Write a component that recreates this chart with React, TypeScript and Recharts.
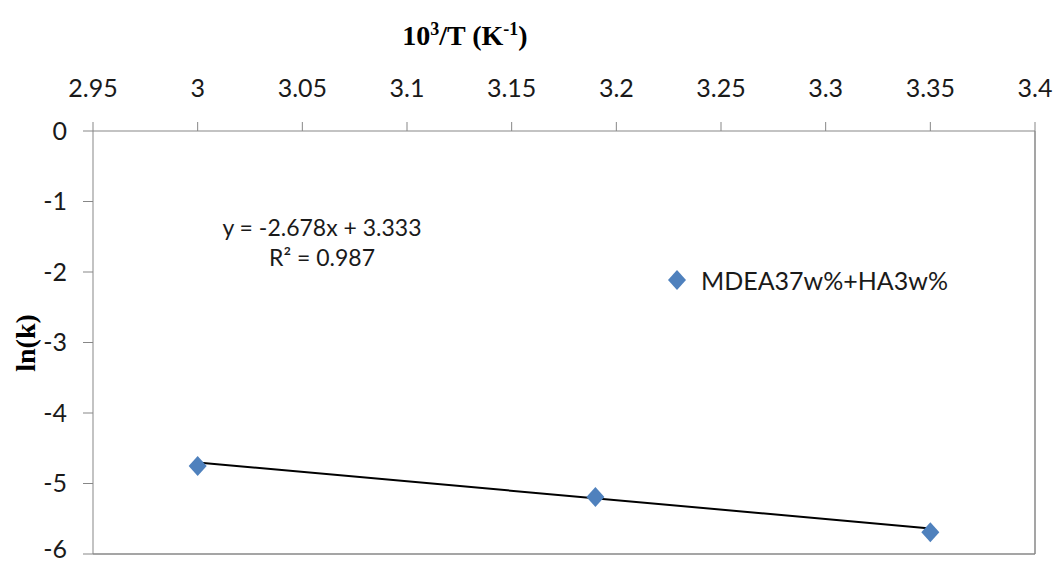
import React from "react";
import { ReferenceLine, Scatter, ScatterChart, XAxis, YAxis } from "recharts";

// measured points: 10^3/T vs ln(k)
const invT = [3.0, 3.19, 3.35];
const lnK = [-4.75, -5.19, -5.69];

// linear fit drawn between the first and last point
const trendX = [3.0, 3.35];
const trendY = [-4.701, -5.638];

const xTicks = [2.95, 3, 3.05, 3.1, 3.15, 3.2, 3.25, 3.3, 3.35, 3.4];
const yTicks = [0, -1, -2, -3, -4, -5, -6];

const seriesName = "MDEA37w%+HA3w%";
const equationText = "y = -2.678x + 3.333";
const r2Text = "R² = 0.987";

const points = invT.map((x, i) => ({ x, y: lnK[i] }));

const BLUE = "#4F81BD";
const AXIS = "#878787";
const TICK_FONT = "Lato, 'Noto Sans', sans-serif";
const TITLE_FONT = "'Liberation Serif', 'Times New Roman', serif";

function Diamond(props: any) {
    const { cx, cy } = props;
    if (cx == null || cy == null) return <g />;
    const w = 9;
    const h = 10;
    return <path d={`M${cx},${cy - h}L${cx + w},${cy}L${cx},${cy + h}L${cx - w},${cy}Z`} fill={BLUE} />;
}

function XTitle() {
    return (
        <text x={465} y={45} textAnchor="middle" fontFamily={TITLE_FONT} fontWeight="bold" fontSize={28} fill="#000">
            <tspan>10</tspan>
            <tspan dy={-10} fontSize={18}>3</tspan>
            <tspan dy={10}>/T (K</tspan>
            <tspan dy={-10} fontSize={18}>-1</tspan>
            <tspan dy={10}>)</tspan>
        </text>
    );
}

function YTitle() {
    return (
        <text
            x={0}
            y={0}
            transform="translate(35,343) rotate(-90)"
            textAnchor="middle"
            fontFamily={TITLE_FONT}
            fontWeight="bold"
            fontSize={28}
            fill="#000"
        >
            ln(k)
        </text>
    );
}

export default function App() {
    return (
        <div style={{ position: "absolute", left: 0, top: 0, width: 1057, height: 563, background: "#fff" }}>
            <ScatterChart width={1057} height={563} margin={{ top: 71, right: 22, bottom: 9, left: 0 }}>
                <XAxis
                    type="number"
                    dataKey="x"
                    orientation="top"
                    domain={[2.95, 3.4]}
                    ticks={xTicks}
                    height={60}
                    tickSize={9}
                    tickMargin={25}
                    stroke={AXIS}
                    tick={{ fill: "#1a1a1a", fontSize: 25, fontFamily: TICK_FONT }}
                    label={<XTitle />}
                />
                <YAxis
                    type="number"
                    dataKey="y"
                    domain={[-6, 0]}
                    ticks={yTicks}
                    width={93}
                    tickSize={10}
                    tickMargin={16}
                    stroke={AXIS}
                    tick={{ fill: "#1a1a1a", fontSize: 25, fontFamily: TICK_FONT }}
                    label={<YTitle />}
                />
                <ReferenceLine x={3.4} stroke={AXIS} strokeWidth={1.5} />
                <ReferenceLine y={-6} stroke={AXIS} strokeWidth={1.5} />
                <Scatter
                    name={seriesName}
                    data={points}
                    fill={BLUE}
                    shape={<Diamond />}
                    isAnimationActive={false}
                />
                <ReferenceLine
                    segment={[
                        { x: trendX[0], y: trendY[0] },
                        { x: trendX[1], y: trendY[1] },
                    ]}
                    stroke="#000"
                    strokeWidth={2}
                />
            </ScatterChart>
            {/* legend */}
            <div
                style={{
                    position: "absolute",
                    left: 667,
                    top: 265,
                    display: "flex",
                    alignItems: "center",
                    fontFamily: TICK_FONT,
                    fontSize: 25,
                    color: "#1a1a1a",
                }}
            >
                <svg width={20} height={22} style={{ marginRight: 14 }}>
                    <path d="M10,1L19,11L10,21L1,11Z" fill={BLUE} />
                </svg>
                <span>{seriesName}</span>
            </div>
            {/* trendline label */}
            <div
                style={{
                    position: "absolute",
                    left: 172,
                    top: 212,
                    width: 300,
                    textAlign: "center",
                    fontFamily: TICK_FONT,
                    fontSize: 23,
                    lineHeight: "30px",
                    color: "#1a1a1a",
                }}
            >
                <div>{equationText}</div>
                <div>{r2Text}</div>
            </div>
        </div>
    );
}
